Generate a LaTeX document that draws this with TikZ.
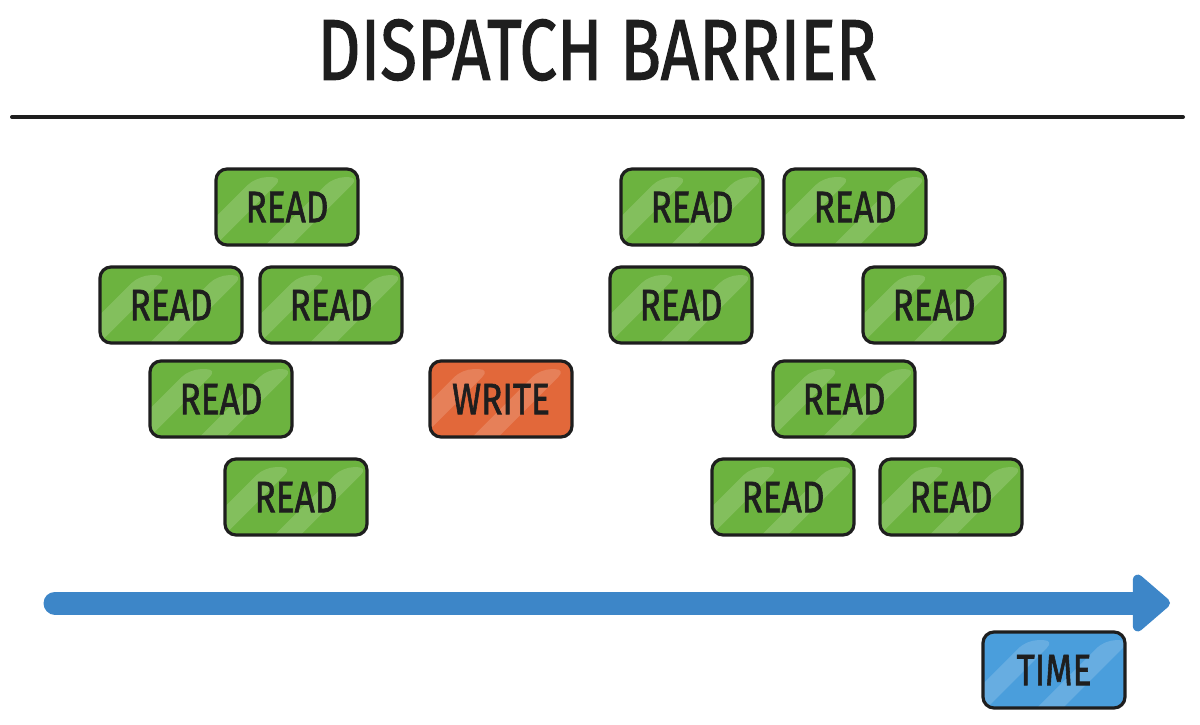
\documentclass[tikz,border=0pt]{standalone}
\usepackage{fontspec}
\setmainfont{Fira Sans}
\newfontfamily\hand[FakeBold=1.6]{Fira Sans}
\usetikzlibrary{arrows.meta}
\definecolor{grn}{HTML}{6CB33F}
\definecolor{org}{HTML}{E2683A}
\definecolor{blu}{HTML}{4A9EDC}
\definecolor{arr}{HTML}{3D86C8}
\definecolor{ink}{HTML}{1E1E1E}
\tikzset{
  box/.style={draw=ink, line width=3.2pt, rounded corners=11pt, fill=#1,
    minimum width=142pt, minimum height=76pt, inner sep=0pt,
    text=ink, font=\hand\fontsize{44}{44}\selectfont,
    path picture={
      \begin{scope}[shift={(path picture bounding box.center)}]
        \fill[white,opacity=.16] (-80,45)--(-52,45)--(38,-45)--(10,-45)--cycle;
        \fill[white,opacity=.16] (-2,45)--(24,45)--(114,-45)--(88,-45)--cycle;
      \end{scope}}},
}
\newcommand{\lbl}[1]{\scalebox{0.8}[1]{#1}}
\begin{document}
\begin{tikzpicture}[x=1pt,y=-1pt]
\useasboundingbox (0,0) rectangle (1200,724);
\node[text=ink, font=\hand\fontsize{86}{86}\selectfont] (title) at (597,50) {\scalebox{0.78}[1]{DISPATCH BARRIER}};
\coordinate (l1) at (12,117);
\coordinate (l2) at (1183,117);
\draw[ink, line width=4pt, line cap=round] (l1) -- (l2);

\node[box=grn] (r1) at (287,207) {\lbl{READ}};
\node[box=grn] (r2) at (171,305) {\lbl{READ}};
\node[box=grn] (r3) at (331,305) {\lbl{READ}};
\node[box=grn] (r4) at (221,399) {\lbl{READ}};
\node[box=grn] (r5) at (296,497) {\lbl{READ}};
\node[box=org] (w) at (501,399) {\lbl{WRITE}};
\node[box=grn] (r6) at (692,207) {\lbl{READ}};
\node[box=grn] (r7) at (855,207) {\lbl{READ}};
\node[box=grn] (r8) at (681,305) {\lbl{READ}};
\node[box=grn] (r9) at (934,305) {\lbl{READ}};
\node[box=grn] (r10) at (844,399) {\lbl{READ}};
\node[box=grn] (r11) at (783,497) {\lbl{READ}};
\node[box=grn] (r12) at (951,497) {\lbl{READ}};

\coordinate (as) at (55,603);
\coordinate (ae) at (1170,603);
\draw[arr, line width=23pt, line cap=round,
  -{Triangle[length=40pt, width=66pt, round]}] (as) -- (ae);

\node[box=blu] (time) at (1054,670) {\lbl{TIME}};
\end{tikzpicture}
\end{document}
